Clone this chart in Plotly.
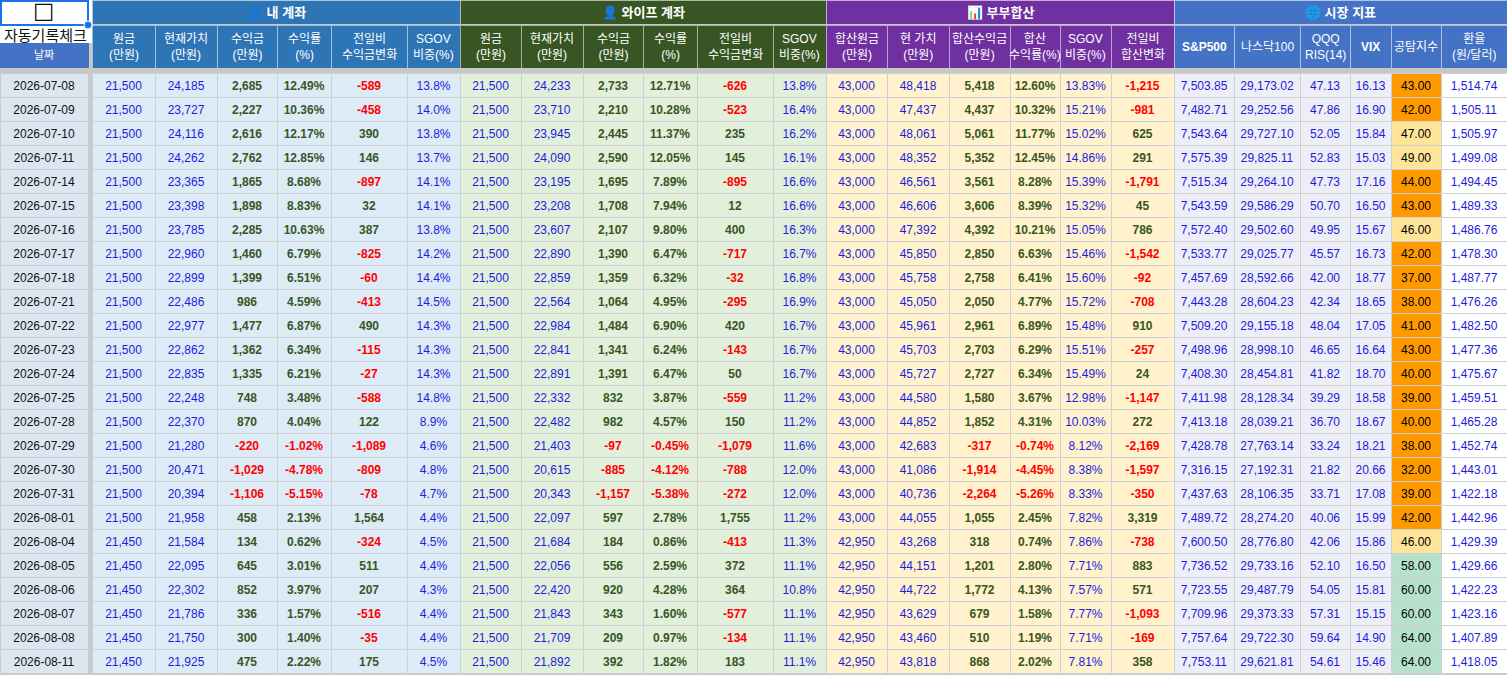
import plotly.graph_objects as go

# %% DATA
DATES = [
    "2026-07-08", "2026-07-09", "2026-07-10", "2026-07-11", "2026-07-14",
    "2026-07-15", "2026-07-16", "2026-07-17", "2026-07-18", "2026-07-21",
    "2026-07-22", "2026-07-23", "2026-07-24", "2026-07-25", "2026-07-28",
    "2026-07-29", "2026-07-30", "2026-07-31", "2026-08-01", "2026-08-04",
    "2026-08-05", "2026-08-06", "2026-08-07", "2026-08-08", "2026-08-11",
]

# 내 계좌
MY_PRINCIPAL = [21500] * 19 + [21450] * 6
MY_VALUE = [24185, 23727, 24116, 24262, 23365, 23398, 23785, 22960, 22899, 22486,
            22977, 22862, 22835, 22248, 22370, 21280, 20471, 20394, 21958, 21584,
            22095, 22302, 21786, 21750, 21925]
MY_PROFIT = [2685, 2227, 2616, 2762, 1865, 1898, 2285, 1460, 1399, 986,
             1477, 1362, 1335, 748, 870, -220, -1029, -1106, 458, 134,
             645, 852, 336, 300, 475]
MY_RATE = [12.49, 10.36, 12.17, 12.85, 8.68, 8.83, 10.63, 6.79, 6.51, 4.59,
           6.87, 6.34, 6.21, 3.48, 4.04, -1.02, -4.78, -5.15, 2.13, 0.62,
           3.01, 3.97, 1.57, 1.40, 2.22]
MY_CHANGE = [-589, -458, 390, 146, -897, 32, 387, -825, -60, -413,
             490, -115, -27, -588, 122, -1089, -809, -78, 1564, -324,
             511, 207, -516, -35, 175]
MY_SGOV = [13.8, 14.0, 13.8, 13.7, 14.1, 14.1, 13.8, 14.2, 14.4, 14.5,
           14.3, 14.3, 14.3, 14.8, 8.9, 4.6, 4.8, 4.7, 4.4, 4.5,
           4.4, 4.3, 4.4, 4.4, 4.5]

# 와이프 계좌
WIFE_PRINCIPAL = [21500] * 25
WIFE_VALUE = [24233, 23710, 23945, 24090, 23195, 23208, 23607, 22890, 22859, 22564,
              22984, 22841, 22891, 22332, 22482, 21403, 20615, 20343, 22097, 21684,
              22056, 22420, 21843, 21709, 21892]
WIFE_PROFIT = [2733, 2210, 2445, 2590, 1695, 1708, 2107, 1390, 1359, 1064,
               1484, 1341, 1391, 832, 982, -97, -885, -1157, 597, 184,
               556, 920, 343, 209, 392]
WIFE_RATE = [12.71, 10.28, 11.37, 12.05, 7.89, 7.94, 9.80, 6.47, 6.32, 4.95,
             6.90, 6.24, 6.47, 3.87, 4.57, -0.45, -4.12, -5.38, 2.78, 0.86,
             2.59, 4.28, 1.60, 0.97, 1.82]
WIFE_CHANGE = [-626, -523, 235, 145, -895, 12, 400, -717, -32, -295,
               420, -143, 50, -559, 150, -1079, -788, -272, 1755, -413,
               372, 364, -577, -134, 183]
WIFE_SGOV = [13.8, 16.4, 16.2, 16.1, 16.6, 16.6, 16.3, 16.7, 16.8, 16.9,
             16.7, 16.7, 16.7, 11.2, 11.2, 11.6, 12.0, 12.0, 11.2, 11.3,
             11.1, 10.8, 11.1, 11.1, 11.1]

# 부부합산
SUM_PRINCIPAL = [43000] * 19 + [42950] * 6
SUM_VALUE = [48418, 47437, 48061, 48352, 46561, 46606, 47392, 45850, 45758, 45050,
             45961, 45703, 45727, 44580, 44852, 42683, 41086, 40736, 44055, 43268,
             44151, 44722, 43629, 43460, 43818]
SUM_PROFIT = [5418, 4437, 5061, 5352, 3561, 3606, 4392, 2850, 2758, 2050,
              2961, 2703, 2727, 1580, 1852, -317, -1914, -2264, 1055, 318,
              1201, 1772, 679, 510, 868]
SUM_RATE = [12.60, 10.32, 11.77, 12.45, 8.28, 8.39, 10.21, 6.63, 6.41, 4.77,
            6.89, 6.29, 6.34, 3.67, 4.31, -0.74, -4.45, -5.26, 2.45, 0.74,
            2.80, 4.13, 1.58, 1.19, 2.02]
SUM_SGOV = [13.83, 15.21, 15.02, 14.86, 15.39, 15.32, 15.05, 15.46, 15.60, 15.72,
            15.48, 15.51, 15.49, 12.98, 10.03, 8.12, 8.38, 8.33, 7.82, 7.86,
            7.71, 7.57, 7.77, 7.71, 7.81]
SUM_CHANGE = [-1215, -981, 625, 291, -1791, 45, 786, -1542, -92, -708,
              910, -257, 24, -1147, 272, -2169, -1597, -350, 3319, -738,
              883, 571, -1093, -169, 358]

# 시장 지표
SP500 = [7503.85, 7482.71, 7543.64, 7575.39, 7515.34, 7543.59, 7572.40, 7533.77, 7457.69, 7443.28,
         7509.20, 7498.96, 7408.30, 7411.98, 7413.18, 7428.78, 7316.15, 7437.63, 7489.72, 7600.50,
         7736.52, 7723.55, 7709.96, 7757.64, 7753.11]
NDX100 = [29173.02, 29252.56, 29727.10, 29825.11, 29264.10, 29586.29, 29502.60, 29025.77, 28592.66, 28604.23,
          29155.18, 28998.10, 28454.81, 28128.34, 28039.21, 27763.14, 27192.31, 28106.35, 28274.20, 28776.80,
          29733.16, 29487.79, 29373.33, 29722.30, 29621.81]
QQQ_RSI = [47.13, 47.86, 52.05, 52.83, 47.73, 50.70, 49.95, 45.57, 42.00, 42.34,
           48.04, 46.65, 41.82, 39.29, 36.70, 33.24, 21.82, 33.71, 40.06, 42.06,
           52.10, 54.05, 57.31, 59.64, 54.61]
VIX = [16.13, 16.90, 15.84, 15.03, 17.16, 16.50, 15.67, 16.73, 18.77, 18.65,
       17.05, 16.64, 18.70, 18.58, 18.67, 18.21, 20.66, 17.08, 15.99, 15.86,
       16.50, 15.81, 15.15, 14.90, 15.46]
FEAR_GREED = [43, 42, 47, 49, 44, 43, 46, 42, 37, 38,
              41, 43, 40, 39, 40, 38, 32, 39, 42, 46,
              58, 60, 60, 64, 64]
USD_KRW = [1514.74, 1505.11, 1505.97, 1499.08, 1494.45, 1489.33, 1486.76, 1478.30, 1487.77, 1476.26,
           1482.50, 1477.36, 1475.67, 1459.51, 1465.28, 1452.74, 1443.01, 1422.18, 1442.96, 1429.39,
           1429.66, 1422.23, 1423.16, 1407.89, 1418.05]

GROUP_TITLES = ["👤 내 계좌", "👤 와이프 계좌", "📊 부부합산", "🌐 시장 지표"]
ACCOUNT_HEADERS = ["원금<br>(만원)", "현재가치<br>(만원)", "수익금<br>(만원)", "수익률<br>(%)",
                   "전일비<br>수익금변화", "SGOV<br>비중(%)"]
SUM_HEADERS = ["합산원금<br>(만원)", "현 가치<br>(만원)", "합산수익금<br>(만원)", "합산<br>수익률(%)",
               "SGOV<br>비중(%)", "전일비<br>합산변화"]
MARKET_HEADERS = ["S&P500", "나스닥100", "QQQ<br>RIS(14)", "VIX", "공탐지수", "환율<br>(원/달러)"]

# %% STYLE
W, H = 1507, 675
FONT = "Liberation Sans, Arial, Noto Sans CJK KR, sans-serif"
BLUE_TXT = "#1c1cdc"
GREEN_TXT = "#375623"
RED_TXT = "#ff0000"
GAP = "#c8c8c8"

HEAD_MY = "#2e75b6"
HEAD_WIFE = "#375623"
HEAD_SUM = "#7030a0"
HEAD_MKT = "#4472c4"

BG_MY = "#ddebf7"
BG_WIFE = "#e2efda"
BG_SUM = "#fff2cc"
BG_MKT = "#eeeef6"

# column widths in px (sum = 1507 - 92)
W_MY = [63, 62, 60, 54, 76, 53]
W_WIFE = [61, 62, 60, 54, 76, 53]
W_SUM = [61, 62, 61, 50, 51, 63]
W_MKT = [60, 66, 50, 41, 50, 66]
X0 = 92


def fx(px):
    return px / W


def fy(px):
    return 1 - px / H


def num(v):
    return f"{v:,}"


def pct2(v):
    return f"{v:.2f}%"


def fear_color(v):
    if v <= 45:
        return "#ff9900"
    if v < 55:
        return "#ffe599"
    return "#b7e1cd"


# %% BUILD COLUMNS
cols, colors, fills, weights = [], [], [], []


def add_plain(texts, bg, color=BLUE_TXT):
    cols.append(texts)
    colors.append([color] * len(texts))
    fills.append([bg] * len(texts))
    weights.append("normal")


def add_signed(vals, fmt, bg):
    # gain/loss cells: bold, green if >= 0, red otherwise
    cols.append([fmt(v) for v in vals])
    colors.append([GREEN_TXT if v >= 0 else RED_TXT for v in vals])
    fills.append([bg] * len(vals))
    weights.append("bold")


for prin, val, prof, rate, chg, sgov, bg in [
    (MY_PRINCIPAL, MY_VALUE, MY_PROFIT, MY_RATE, MY_CHANGE, MY_SGOV, BG_MY),
    (WIFE_PRINCIPAL, WIFE_VALUE, WIFE_PROFIT, WIFE_RATE, WIFE_CHANGE, WIFE_SGOV, BG_WIFE),
]:
    add_plain([num(v) for v in prin], bg)
    add_plain([num(v) for v in val], bg)
    add_signed(prof, num, bg)
    add_signed(rate, pct2, bg)
    add_signed(chg, num, bg)
    add_plain([f"{v:.1f}%" for v in sgov], bg)

add_plain([num(v) for v in SUM_PRINCIPAL], BG_SUM)
add_plain([num(v) for v in SUM_VALUE], BG_SUM)
add_signed(SUM_PROFIT, num, BG_SUM)
add_signed(SUM_RATE, pct2, BG_SUM)
add_plain([pct2(v) for v in SUM_SGOV], BG_SUM)
add_signed(SUM_CHANGE, num, BG_SUM)

add_plain([f"{v:,.2f}" for v in SP500], BG_MKT)
add_plain([f"{v:,.2f}" for v in NDX100], BG_MKT)
add_plain([f"{v:.2f}" for v in QQQ_RSI], BG_MKT)
add_plain([f"{v:.2f}" for v in VIX], BG_MKT)
cols.append([f"{v:.2f}" for v in FEAR_GREED])
colors.append(["#000000"] * len(FEAR_GREED))
fills.append([fear_color(v) for v in FEAR_GREED])
weights.append("normal")
add_plain([f"{v:,.2f}" for v in USD_KRW], "#ffffff")

widths = W_MY + W_WIFE + W_SUM + W_MKT
group_widths = [sum(W_MY), sum(W_WIFE), sum(W_SUM), sum(W_MKT)]
head_fill = [HEAD_MY] * 6 + [HEAD_WIFE] * 6 + [HEAD_SUM] * 6 + [HEAD_MKT] * 6
head_labels = ACCOUNT_HEADERS + ACCOUNT_HEADERS + SUM_HEADERS + MARKET_HEADERS


def centers(ws, start):
    out, x = [], start
    for w in ws:
        out.append(x + w / 2)
        x += w
    return out


def label(x, y, text, size=12, color="white", family=FONT, xanchor="center"):
    fig.add_annotation(x=fx(x), y=fy(y), xref="paper", yref="paper",
                       text=text, showarrow=False,
                       xanchor=xanchor, yanchor="middle",
                       font=dict(family=family, size=size, color=color))


# %% PLOT
fig = go.Figure()

# group title row (cells drawn by the table, labels as annotations for vertical centring)
fig.add_trace(go.Table(
    domain=dict(x=[fx(X0), 1], y=[fy(25), 1]),
    columnwidth=group_widths,
    header=dict(
        values=[""] * 4,
        fill_color=[HEAD_MY, HEAD_WIFE, HEAD_SUM, HEAD_MKT],
        line=dict(color="rgba(255,255,255,0.6)", width=1),
        height=25,
    ),
))

# column header row
fig.add_trace(go.Table(
    domain=dict(x=[fx(X0), 1], y=[fy(68), fy(25)]),
    columnwidth=widths,
    header=dict(
        values=[""] * len(widths),
        fill_color=head_fill,
        line=dict(color="rgba(255,255,255,0.55)", width=1),
        height=43,
    ),
))

# date header
fig.add_trace(go.Table(
    domain=dict(x=[0, fx(88)], y=[fy(68), fy(43)]),
    header=dict(values=[""], fill_color=HEAD_MKT,
                line=dict(color=HEAD_MKT, width=1), height=25),
))

# date body (thin gray header acts as the separator band)
fig.add_trace(go.Table(
    domain=dict(x=[0, fx(88)], y=[0, fy(68)]),
    header=dict(values=[""], fill_color=GAP, line=dict(color=GAP, width=0),
                font=dict(size=1), height=5),
    cells=dict(
        values=[DATES],
        fill_color="#dde6f0",
        line=dict(color="#c4ccd6", width=1),
        font=dict(family=FONT, size=12, color="#111111"),
        align="center", height=24,
    ),
))

# main body
fig.add_trace(go.Table(
    domain=dict(x=[fx(X0), 1], y=[0, fy(68)]),
    columnwidth=widths,
    header=dict(values=[""] * len(widths), fill_color=GAP,
                line=dict(color=GAP, width=0), font=dict(size=1), height=5),
    cells=dict(
        values=cols,
        fill_color=fills,
        line=dict(color="#cdd0d4", width=1),
        font=dict(family=FONT, size=12, color=colors, weight=weights),
        align="center", height=24,
    ),
))

# header labels
for cx, t in zip(centers(group_widths, X0), GROUP_TITLES):
    label(cx, 12.5, f"<b>{t}</b>", size=13)
for cx, t in zip(centers(widths, X0), head_labels):
    label(cx, 46.5, f"<b>{t}</b>" if t in ("S&P500", "VIX") else t)
label(44, 55.5, "날짜", size=11)

# top-left: auto-record checkbox cell
fig.add_shape(type="rect", xref="paper", yref="paper",
              x0=0, x1=fx(X0), y0=fy(43), y1=1,
              fillcolor="white", line_width=0, layer="below")
fig.add_shape(type="rect", xref="paper", yref="paper",
              x0=fx(1), x1=fx(88), y0=fy(25), y1=fy(1),
              fillcolor="rgba(0,0,0,0)", line=dict(color="#1a73e8", width=2))
fig.add_shape(type="circle", xref="paper", yref="paper",
              x0=fx(84), x1=fx(92), y0=fy(29), y1=fy(21),
              fillcolor="#1a73e8", line=dict(color="white", width=1))
label(44, 13, "☐", size=24, color="#111111", family="DejaVu Sans")
label(2, 34, "자동기록체크", size=15, color="#111111",
      family="Noto Sans CJK KR", xanchor="left")

fig.update_layout(
    width=W, height=H,
    margin=dict(l=0, r=0, t=0, b=0),
    paper_bgcolor=GAP,
    showlegend=False,
)
fig.write_html(
    "out.html",
    config={"displayModeBar": False},
    post_script="document.body.style.margin='0';document.body.style.overflow='hidden';",
)
